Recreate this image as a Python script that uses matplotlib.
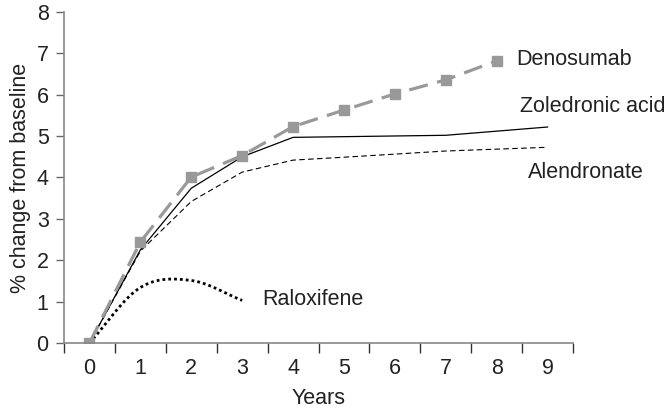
import numpy as np
import matplotlib
matplotlib.use("Agg")
import matplotlib.pyplot as plt

plt.rcParams['font.family'] = ['Liberation Sans', 'DejaVu Sans']

# values
years = list(range(10))
deno_x = [0, 1, 2, 3, 4, 5, 6, 7, 8]
deno_y = [0.0, 2.44, 4.01, 4.53, 5.23, 5.63, 6.02, 6.36, 6.82]
zol_x = [0, 1, 2, 3, 4, 7, 9]
zol_y = [0.0, 2.25, 3.74, 4.5, 4.97, 5.02, 5.22]
alen_x = [0, 1, 2, 3, 4, 5, 7, 9]
alen_y = [0.0, 2.22, 3.42, 4.13, 4.42, 4.49, 4.64, 4.73]
ralox_x = [0, 1, 2, 3]
ralox_y = [0.0, 1.34, 1.51, 1.03]

labels = ["Denosumab", "Zoledronic acid", "Alendronate", "Raloxifene"]
label_pos = [(8.38, 6.84), (8.46, 5.72), (8.61, 4.13), (3.39, 1.06)]


# Сглаживание (как в Excel) через кривую Катмулла-Рома
def smooth(x, y, n=40):
    x = np.asarray(x, float)
    y = np.asarray(y, float)
    m = len(x)
    tx = np.zeros(m)
    ty = np.zeros(m)
    for i in range(m):
        a = max(i - 1, 0)
        b = min(i + 1, m - 1)
        tx[i] = (x[b] - x[a]) / (b - a)
        ty[i] = (y[b] - y[a]) / (b - a)
    xs, ys = [], []
    t = np.linspace(0, 1, n)
    h00 = 2 * t**3 - 3 * t**2 + 1
    h10 = t**3 - 2 * t**2 + t
    h01 = -2 * t**3 + 3 * t**2
    h11 = t**3 - t**2
    for i in range(m - 1):
        xs.append(h00 * x[i] + h10 * tx[i] + h01 * x[i + 1] + h11 * tx[i + 1])
        ys.append(h00 * y[i] + h10 * ty[i] + h01 * y[i + 1] + h11 * ty[i + 1])
    return np.concatenate(xs), np.concatenate(ys)


fig = plt.figure(figsize=(6.66, 4.11), dpi=100)
ax = fig.add_axes([0.0961, 0.1655, 0.7643, 0.8053])

ax.plot(alen_x, alen_y, color="black", lw=0.8, dashes=(5, 3))
ax.plot(zol_x, zol_y, color="black", lw=0.9)
rx, ry = smooth(ralox_x, ralox_y)
ax.plot(rx, ry, color="black", lw=2.0, dashes=(1, 1.1), dash_capstyle="butt")
ax.plot(deno_x, deno_y, color="#999999", lw=2.3, dashes=(6, 3),
        marker="s", markersize=6.5, markerfacecolor="#999999",
        markeredgecolor="#999999")

for name, (tx, ty) in zip(labels, label_pos):
    ax.text(tx, ty, name, fontsize=15.5, color="#222222", ha="left", va="center")

ax.set_xlim(-0.5, 9.5)
ax.set_ylim(0, 8)
ax.set_xticks(years)
ax.set_xticklabels([str(v) for v in years])
ax.set_xticks(np.arange(-0.5, 10, 1), minor=True)
ax.set_yticks(range(9))

ax.tick_params(axis="x", which="major", length=0, pad=11, labelsize=15.5,
               labelcolor="#222222")
ax.tick_params(axis="x", which="minor", length=7, direction="out",
               color="#333333", width=1)
ax.tick_params(axis="y", length=6, direction="out", color="#666666",
               width=1, labelsize=15.5, labelcolor="#222222", pad=5)

for s in ["top", "right"]:
    ax.spines[s].set_visible(False)
ax.spines["left"].set_color("#888888")
ax.spines["bottom"].set_color("#888888")
ax.spines["left"].set_linewidth(1.2)
ax.spines["bottom"].set_linewidth(1.2)

ax.set_xlabel("Years", fontsize=15.5, color="#222222", labelpad=6)
ax.set_ylabel("% change from baseline", fontsize=15.5, color="#222222",
              labelpad=4)

fig.savefig("out.png", dpi=100)
